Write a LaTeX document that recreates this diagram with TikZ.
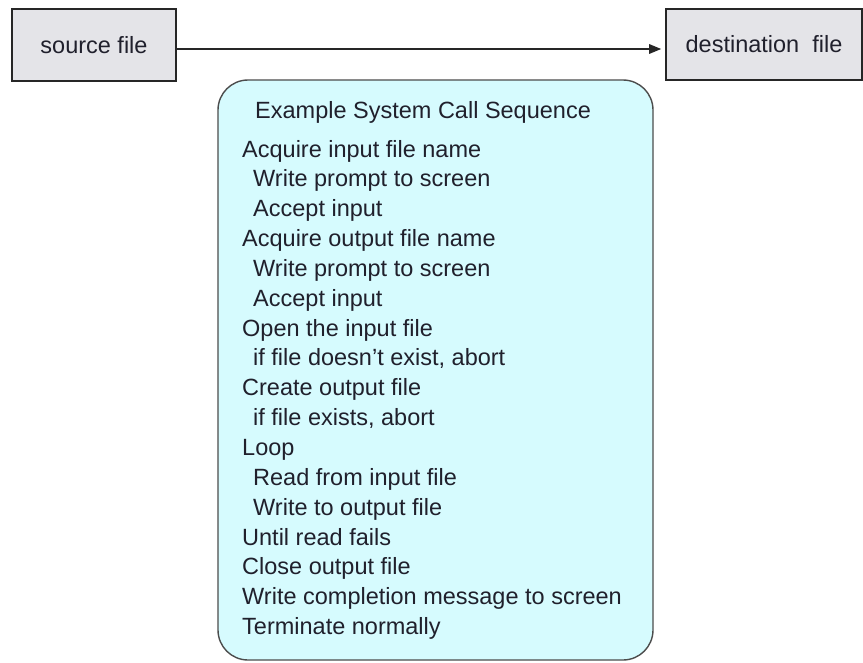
\documentclass[tikz,border=0pt]{standalone}
\usepackage{fontspec}
\setmainfont{Liberation Sans}
\usetikzlibrary{arrows.meta}
\definecolor{boxgray}{RGB}{228,228,232}
\definecolor{seqcyan}{RGB}{214,251,254}
\definecolor{inkdark}{RGB}{32,32,44}
\tikzset{
  filebox/.style={draw=black!85, line width=1.6pt, fill=boxgray, inner sep=0pt,
    font=\fontsize{23.5}{28}\selectfont, text=inkdark},
  seqbox/.style={draw=black!70, line width=1.4pt, fill=seqcyan, rounded corners=30pt, inner sep=0pt},
  seqline/.style={anchor=base west, inner sep=0pt, font=\fontsize{23.5}{28}\selectfont, text=inkdark},
  flow/.style={line width=1.5pt, draw=black!85, -{Triangle[length=12pt,width=9.5pt]}, shorten >=4pt}
}
\begin{document}
\begin{tikzpicture}[x=1pt,y=-1pt]
\useasboundingbox (0,0) rectangle (863,662);
% the two files and the copy arrow
\node[filebox, minimum width=164, minimum height=72] (src) at (94,45) {source file};
\node[filebox, minimum width=196, minimum height=71] (dst) at (764,44.5) {destination~~file};
\draw[flow] (src.east |- 0,49) -- (dst.west |- 0,49);
% the system call sequence panel
\node[seqbox, minimum width=435, minimum height=580] (seq) at (435.5,370) {};
\node[seqline] (title) at (255,118) {Example System Call Sequence};
% each step: left edge / text (sub-steps are indented)
\foreach \xx/\txt [count=\i] in {
  242/{Acquire input file name},
  253/{Write prompt to screen},
  253/{Accept input},
  242/{Acquire output file name},
  253/{Write prompt to screen},
  253/{Accept input},
  242/{Open the input file},
  253/{if file doesn't exist, abort},
  242/{Create output file},
  253/{if file exists, abort},
  242/{Loop},
  253/{Read from input file},
  253/{Write to output file},
  242/{Until read fails},
  242/{Close output file},
  242/{Write completion message to screen},
  242/{Terminate normally}} {
  \node[seqline] (ln\i) at (\xx,157+29.85*\i-29.85) {\txt};
}
\end{tikzpicture}
\end{document}
